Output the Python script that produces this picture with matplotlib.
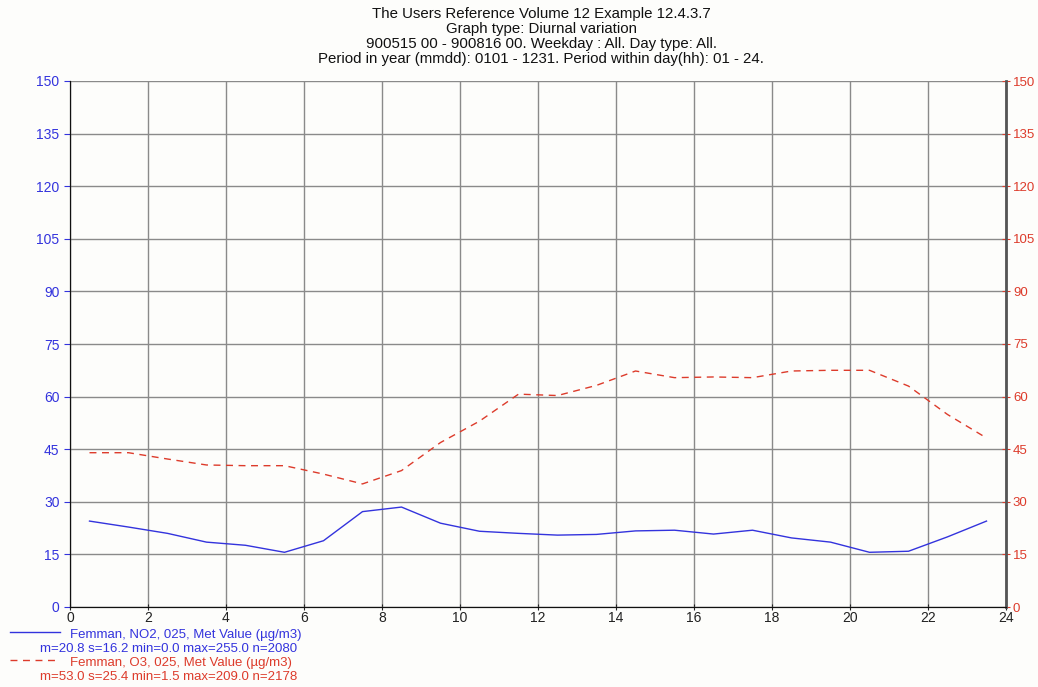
import numpy as np
import matplotlib.pyplot as plt

plt.rcParams['font.family'] = ['Liberation Sans', 'DejaVu Sans']

hours = np.arange(0.5, 24, 1.0)
no2 = [24.5, 22.8, 21.0, 18.5, 17.6, 15.6, 18.9, 27.2, 28.5, 23.9, 21.6, 21.0,
       20.5, 20.7, 21.7, 21.9, 20.8, 21.9, 19.7, 18.5, 15.6, 15.9, 20.0, 24.5]
o3 = [44.0, 44.0, 42.2, 40.5, 40.3, 40.3, 37.9, 35.1, 38.9, 46.9, 53.0, 60.7,
      60.3, 63.2, 67.3, 65.4, 65.6, 65.4, 67.3, 67.5, 67.5, 63.0, 54.9, 48.2]
yticks = np.arange(0, 151, 15)
xticks = np.arange(0, 25, 2)

title_lines = ["The Users Reference Volume 12 Example 12.4.3.7",
               "Graph type: Diurnal variation",
               "900515 00 - 900816 00. Weekday : All. Day type: All.",
               "Period in year (mmdd): 0101 - 1231. Period within day(hh): 01 - 24."]
leg_no2 = ["Femman, NO2, 025, Met Value (\u00b5g/m3)",
           "m=20.8 s=16.2 min=0.0 max=255.0 n=2080"]
leg_o3 = ["Femman, O3, 025, Met Value (\u00b5g/m3)",
          "m=53.0 s=25.4 min=1.5 max=209.0 n=2178"]

blue = '#3333dd'
red = '#dd3b2b'

fig = plt.figure(figsize=(10.38, 6.87), dpi=100, facecolor='#fdfdfb')
ax = fig.add_axes([70/1038, 1-607/687, 936/1038, 526/687], facecolor='#fdfdfb')
ax2 = ax.twinx()

ax.plot(hours, no2, color=blue, lw=1.0)
ax2.plot(hours, o3, color=red, lw=1.0, dashes=(5, 4))

for a in (ax, ax2):
    a.set_ylim(0, 150)
    a.set_yticks(yticks)
ax.set_xlim(0, 24)
ax.set_xticks(xticks)
ax.grid(True, color='#8a8a8a', lw=1.0)
ax.set_axisbelow(True)

ax.tick_params(axis='y', colors=blue, labelcolor=blue, labelsize=10, length=4, direction='out')
ax.tick_params(axis='x', colors='#222222', labelsize=10, length=4, direction='inout', pad=1)
ax2.tick_params(axis='y', colors=red, labelcolor=red, labelsize=9.5, length=6, direction='inout', pad=2)

for a in (ax, ax2):
    a.spines['top'].set_visible(False)
    a.spines['left'].set_color('#111111')
    a.spines['bottom'].set_color('#111111')
ax2.spines['right'].set_color('#555555')
ax2.spines['right'].set_linewidth(2)

for i, line in enumerate(title_lines):
    fig.text(541/1038, 1 - (14 + i * 15) / 687, line, ha='center', va='center', fontsize=10.8, color='#111111')

# legend block at bottom left
fig.add_artist(plt.Line2D([10/1038, 60/1038], [1-632/687]*2, color=blue, lw=1.0))
fig.add_artist(plt.Line2D([10/1038, 60/1038], [1-660/687]*2, color=red, lw=1.0, dashes=(5, 4)))
fig.text(70/1038, 1-635/687, leg_no2[0], ha='left', va='center', fontsize=9.5, color=blue)
fig.text(40/1038, 1-649/687, leg_no2[1], ha='left', va='center', fontsize=9.5, color=blue)
fig.text(70/1038, 1-663/687, leg_o3[0], ha='left', va='center', fontsize=9.5, color=red)
fig.text(40/1038, 1-677/687, leg_o3[1], ha='left', va='center', fontsize=9.5, color=red)

fig.savefig('out.png', dpi=100, facecolor=fig.get_facecolor())
